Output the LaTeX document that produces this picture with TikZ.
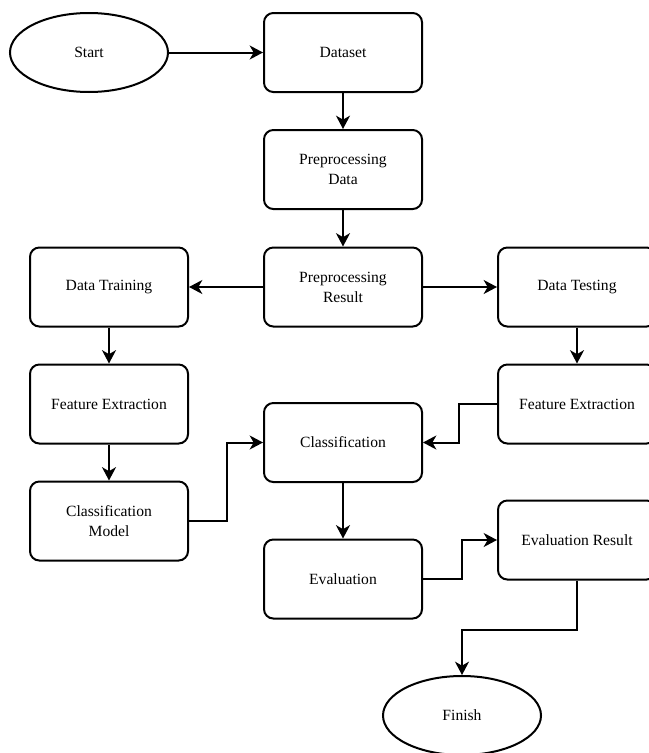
\documentclass[tikz,border=0pt]{standalone}
\usepackage{fontspec}
\setmainfont{Liberation Serif}
\usetikzlibrary{arrows.meta,shapes.geometric}

\begin{document}
\begin{tikzpicture}[x=0.75pt,y=-0.75pt,
        box/.style={draw,line width=1.5pt,rounded corners=7pt,minimum width=118.5pt,
            minimum height=59.25pt,align=center,font=\fontsize{11.7}{15}\selectfont},
        term/.style={draw,ellipse,line width=1.5pt,minimum width=118.5pt,
            minimum height=59.25pt,font=\fontsize{11.7}{15}\selectfont},
        flow/.style={line width=1.5pt,-{Stealth[length=10pt,width=10.5pt,inset=3pt]}}]
        \useasboundingbox (0,0) rectangle (649,753);
        \clip (0,0) rectangle (649,753);

        \node[term] (start) at (89,52.5) {Start};
        \node[box] (dataset) at (343,52.5) {Dataset};
        \node[box] (predata) at (343,169.5) {Preprocessing\\Data};
        \node[box] (preres) at (343,287) {Preprocessing\\Result};
        \node[box] (train) at (109,287) {Data Training};
        \node[box] (test) at (577,287) {Data Testing};
        \node[box] (featL) at (109,404) {Feature Extraction};
        \node[box] (featR) at (577,404) {Feature Extraction};
        \node[box] (model) at (109,521) {Classification\\Model};
        \node[box] (classif) at (343,442.5) {Classification};
        \node[box] (eval) at (343,579) {Evaluation};
        \node[box] (evres) at (577,540) {Evaluation Result};
        \node[term] (finish) at (462,715.5) {Finish};

        \draw[flow] (start) -- (dataset);
        \draw[flow] (dataset) -- (predata);
        \draw[flow] (predata) -- (preres);
        \draw[flow] (preres) -- (train);
        \draw[flow] (preres) -- (test);
        \draw[flow] (train) -- (featL);
        \draw[flow] (featL) -- (model);
        \draw[flow] (test) -- (featR);
        \draw[flow] (model.east) -- ++(38,0) |- (classif.west);
        \draw[flow] (featR.west) -- ++(-38,0) |- (classif.east);
        \draw[flow] (classif) -- (eval);
        \draw[flow] (eval.east) -- ++(39,0) |- (evres.west);
        \draw[flow] (evres.south) -- ++(0,49) -| (finish.north);
    \end{tikzpicture}
\end{document}
